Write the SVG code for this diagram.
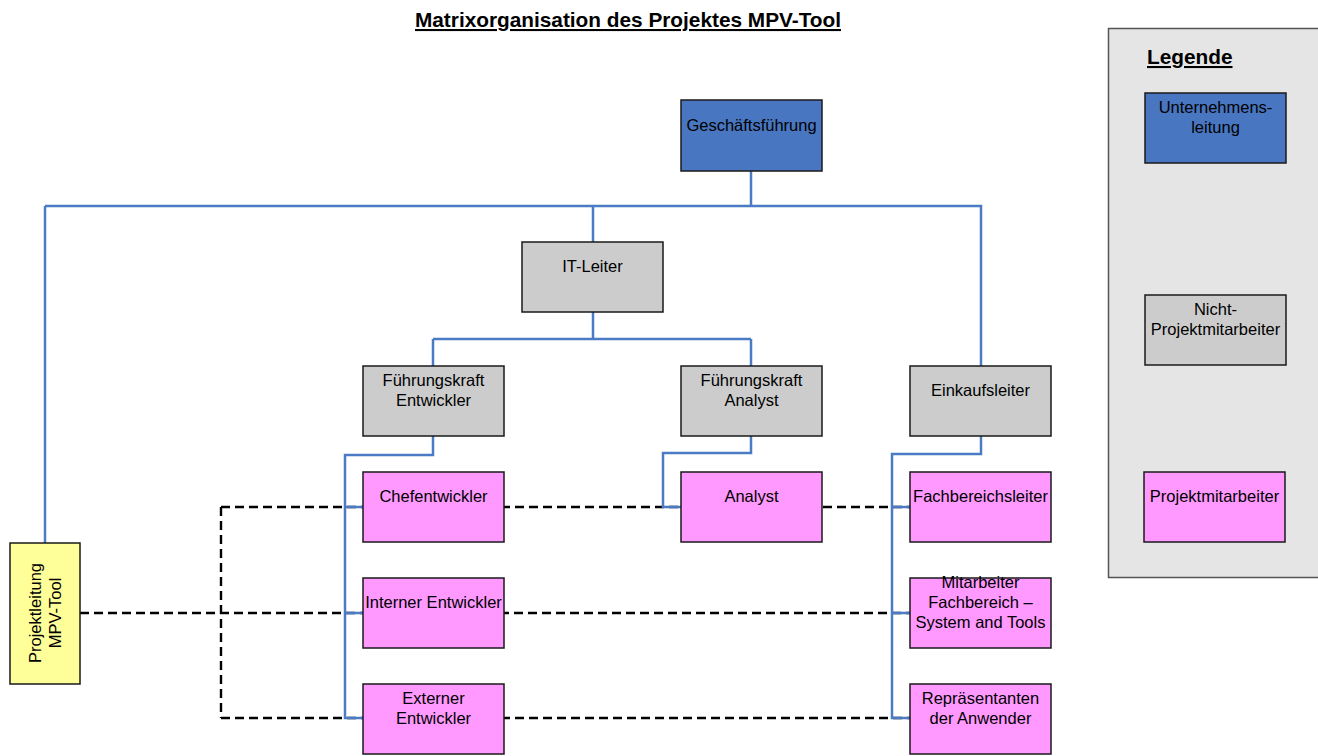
<svg xmlns="http://www.w3.org/2000/svg" width="1318" height="756" viewBox="0 0 1318 756">
<style>
.box{stroke:#1a1a1a;stroke-width:1.5}
.blue{fill:#4876c1}
.gray{fill:#cccccc}
.pink{fill:#ff99ff}
.yellow{fill:#ffff99}
.t{font-family:"Liberation Sans",Arial,sans-serif;font-size:16.5px;fill:#000;text-anchor:middle}
.h{font-family:"Liberation Sans",Arial,sans-serif;font-size:20.8px;font-weight:bold;fill:#000;text-decoration:underline}
.org{fill:none;stroke:#4a7bc4;stroke-width:2.5}
.dash{fill:none;stroke:#000;stroke-width:2.4;stroke-dasharray:9 5}
</style>
<rect width="1318" height="756" fill="#fff"/>
<text class="h" x="628" y="27" text-anchor="middle">Matrixorganisation des Projektes MPV-Tool</text>
<g id="legend">
<rect x="1108.5" y="28.5" width="215" height="549" fill="#e5e5e5" stroke="#555" stroke-width="1.5"/>
<text class="h" x="1147" y="64">Legende</text>
<rect class="box blue" x="1145" y="93" width="141" height="70"/>
<text class="t" x="1215.5" y="113">Unternehmens-</text>
<text class="t" x="1215.5" y="133">leitung</text>
<rect class="box gray" x="1145" y="295" width="141" height="70"/>
<text class="t" x="1215.5" y="315">Nicht-</text>
<text class="t" x="1215.5" y="335">Projektmitarbeiter</text>
<rect class="box pink" x="1144" y="472" width="141" height="70"/>
<text class="t" x="1214.5" y="502">Projektmitarbeiter</text>
</g>
<g id="connectors">
<path class="dash" d="M80 613 H910"/>
<path class="dash" d="M221 507 H910 M221 718 H910 M221 507 V718"/>
<path class="org" d="M751 171 V206 M45 206 H981 V366 M593 206 V242 M45 206 V543"/>
<path class="org" d="M593 312 V339 M433 339 H751 M433 339 V366 M751 339 V366"/>
<path class="org" d="M433 436 V455 H345 V718 H363 M345 507 H363 M345 613 H363"/>
<path class="org" d="M751 436 V453 H663 V507 H681"/>
<path class="org" d="M981 436 V454 H892 V718 H910 M892 507 H910 M892 613 H910"/>
</g>
<g id="n-gf"><rect class="box blue" x="681" y="100" width="141" height="71"/><text class="t" x="751.5" y="131">Geschäftsführung</text></g>
<g id="n-it"><rect class="box gray" x="522" y="242" width="141" height="70"/><text class="t" x="592.5" y="272">IT-Leiter</text></g>
<g id="n-fke"><rect class="box gray" x="363" y="366" width="141" height="70"/><text class="t" x="433.5" y="386">Führungskraft</text><text class="t" x="433.5" y="406">Entwickler</text></g>
<g id="n-fka"><rect class="box gray" x="681" y="366" width="141" height="70"/><text class="t" x="751.5" y="386">Führungskraft</text><text class="t" x="751.5" y="406">Analyst</text></g>
<g id="n-ek"><rect class="box gray" x="910" y="366" width="141" height="70"/><text class="t" x="980.5" y="396">Einkaufsleiter</text></g>
<g id="n-chef"><rect class="box pink" x="363" y="472" width="141" height="70"/><text class="t" x="433.5" y="502">Chefentwickler</text></g>
<g id="n-int"><rect class="box pink" x="363" y="578" width="141" height="70"/><text class="t" x="433.5" y="608">Interner Entwickler</text></g>
<g id="n-ext"><rect class="box pink" x="363" y="684" width="141" height="70"/><text class="t" x="433.5" y="704">Externer</text><text class="t" x="433.5" y="724">Entwickler</text></g>
<g id="n-ana"><rect class="box pink" x="681" y="472" width="141" height="70"/><text class="t" x="751.5" y="502">Analyst</text></g>
<g id="n-fbl"><rect class="box pink" x="910" y="472" width="141" height="70"/><text class="t" x="980.5" y="502">Fachbereichsleiter</text></g>
<g id="n-mfb"><rect class="box pink" x="910" y="578" width="141" height="70"/><text class="t" x="980.5" y="588">Mitarbeiter</text><text class="t" x="980.5" y="608">Fachbereich –</text><text class="t" x="980.5" y="628">System and Tools</text></g>
<g id="n-rep"><rect class="box pink" x="910" y="684" width="141" height="70"/><text class="t" x="980.5" y="704">Repräsentanten</text><text class="t" x="980.5" y="724">der Anwender</text></g>
<g id="n-pl"><rect class="box yellow" x="10" y="543" width="70" height="141"/>
<g transform="rotate(-90 45 613)"><text class="t" x="45" y="609">Projektleitung</text><text class="t" x="45" y="629">MPV-Tool</text></g></g>
</svg>
